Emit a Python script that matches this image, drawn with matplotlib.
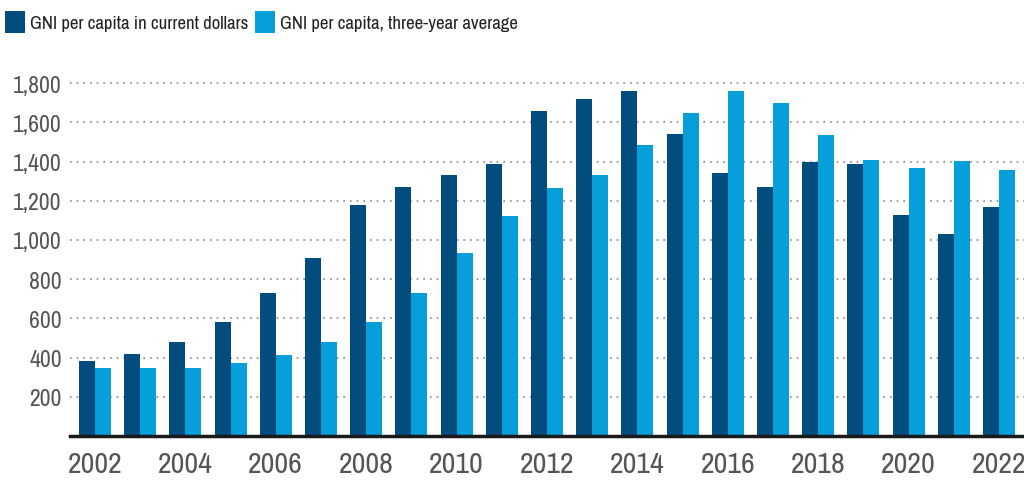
import matplotlib
matplotlib.use('Agg')
import matplotlib.pyplot as plt
from matplotlib.patches import Patch
from matplotlib.ticker import FuncFormatter

plt.rcParams['font.family'] = ['Archivo Narrow', 'Roboto Condensed', 'DejaVu Sans']

years = list(range(2002, 2023))
gni_current = [381, 417, 479, 581, 729, 908, 1178, 1270, 1332, 1388, 1659,
               1720, 1761, 1541, 1342, 1270, 1398, 1388, 1127, 1030, 1168]
gni_3yr_avg = [346, 346, 346, 371, 412, 479, 581, 729, 933, 1122, 1265,
               1332, 1485, 1649, 1761, 1700, 1536, 1408, 1367, 1403, 1357]
series_labels = ['GNI per capita in current dollars', 'GNI per capita, three-year average']
yticks = [200, 400, 600, 800, 1000, 1200, 1400, 1600, 1800]
xticks = list(range(2002, 2023, 2))

DARK = '#024C7E'
LIGHT = '#079FDA'
GRAY = '#555555'

fig = plt.figure(figsize=(10.24, 4.81), dpi=100, facecolor='white')
ax = fig.add_axes([70 / 1024, 44 / 481, 1 - 70 / 1024, 367 / 481])

w = 0.354
ax.bar([y - w / 2 for y in years], gni_current, width=w, color=DARK, zorder=3)
ax.bar([y + w / 2 for y in years], gni_3yr_avg, width=w, color=LIGHT, zorder=3)

ax.set_xlim(2001.45, 2022.55)
ax.set_ylim(0, 1872)
ax.set_yticks(yticks)
ax.yaxis.set_major_formatter(FuncFormatter(lambda v, p: f'{int(v):,}'))
ax.set_xticks(xticks)
ax.set_xticklabels([str(x) for x in xticks])

ax.grid(axis='y', linestyle=(0, (1, 3)), color='#888888', linewidth=1.2, zorder=0)
for s in ['top', 'right', 'left']:
    ax.spines[s].set_visible(False)
ax.spines['bottom'].set_color('#1a1a1a')
ax.spines['bottom'].set_linewidth(2.5)
ax.spines['bottom'].set_zorder(4)

ax.tick_params(axis='y', length=0, pad=6, labelsize=17, labelcolor=GRAY)
ax.tick_params(axis='x', length=0, pad=10, labelsize=21.5, labelcolor=GRAY)

handles = [Patch(facecolor=DARK), Patch(facecolor=LIGHT)]
fig.legend(handles, series_labels, loc='upper left', bbox_to_anchor=(5 / 1024, 1 - 12 / 481),
           ncol=2, frameon=False, fontsize=13.5, handlelength=1.07, handleheight=1.44,
           handletextpad=0.27, columnspacing=0.35, borderaxespad=0, borderpad=0,
           labelcolor='#222222')

fig.savefig('out.png', dpi=100, facecolor='white')
